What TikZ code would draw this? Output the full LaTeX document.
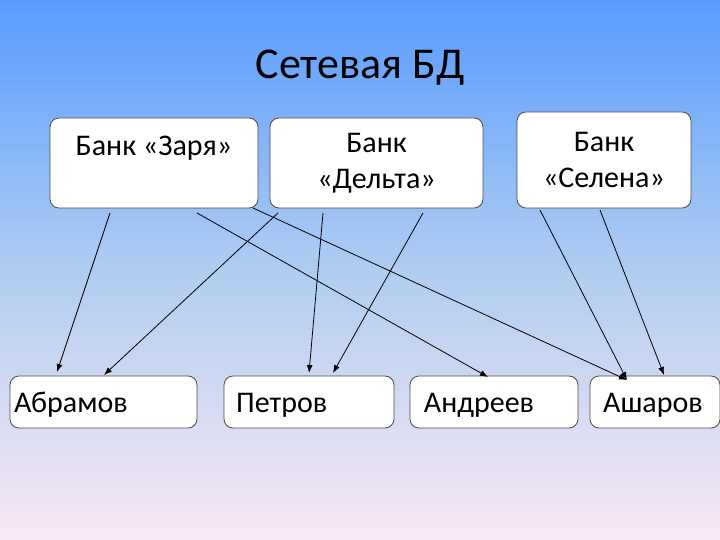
\documentclass[tikz,border=0pt]{standalone}
\usepackage{fontspec}
\usetikzlibrary{arrows.meta}
\setmainfont{Carlito}
\begin{document}
\begin{tikzpicture}[x=1pt,y=-1pt,
  txt/.style={font=\fontsize{30}{36}\selectfont,inner sep=0pt},
  box/.style={draw=black!70,fill=white,rounded corners=9pt,line width=0.8pt,font=\fontsize{30}{36}\selectfont,align=center,inner sep=0pt},
  arr/.style={-{Latex[length=8pt,width=6pt]},line width=0.8pt}]
\shade[top color={rgb,255:red,88;green,155;blue,255},bottom color={rgb,255:red,250;green,232;blue,246},middle color={rgb,255:red,175;green,205;blue,240}] (0,0) rectangle (720,540);
\useasboundingbox (0,0) rectangle (720,540);
\node[font=\fontsize{44}{50}\selectfont] (title) at (360,68) {Сетевая БД};
\node[box,minimum width=208pt,minimum height=90pt] (zarya) at (154,163) {};
\node[txt] (zt) at (154,148) {Банк «Заря»};
\node[box,minimum width=213pt,minimum height=90pt] (delta) at (376.5,163) {Банк\\«Дельта»};
\node[box,minimum width=174pt,minimum height=96pt] (selena) at (604,160) {Банк\\«Селена»};
\node[box,minimum width=187pt,minimum height=52pt] (abr) at (103.5,402) {};
\node[txt,anchor=base west] at (14,412) {Абрамов};
\node[box,minimum width=170pt,minimum height=52pt] (pet) at (309,402) {};
\node[txt,anchor=base west] at (236,412) {Петров};
\node[box,minimum width=168pt,minimum height=52pt] (and) at (494,402) {};
\node[txt,anchor=base] at (479,412) {Андреев};
\node[box,minimum width=130pt,minimum height=52pt] (ash) at (655,402) {};
\node[txt,anchor=base] at (653,412) {Ашаров};
\coordinate (z1) at (110,213); \coordinate (z2) at (197,213); \coordinate (z3) at (253,208);
\coordinate (d1) at (278,213); \coordinate (d2) at (323,213); \coordinate (d3) at (423,213);
\coordinate (s1) at (540,210); \coordinate (s2) at (600,210);
\coordinate (a1) at (57,372); \coordinate (a2) at (104,375);
\coordinate (p1) at (309,373); \coordinate (p2) at (333,373);
\coordinate (n1) at (488,377);
\coordinate (h1) at (627,380); \coordinate (h2) at (664,375);
\draw[arr] (z1) -- (a1);
\draw[arr] (z2) -- (n1);
\draw[arr] (z3) -- (h1);
\draw[arr] (d1) -- (a2);
\draw[arr] (d2) -- (p1);
\draw[arr] (d3) -- (p2);
\draw[arr] (s1) -- (h1);
\draw[arr] (s2) -- (h2);
\end{tikzpicture}
\end{document}
